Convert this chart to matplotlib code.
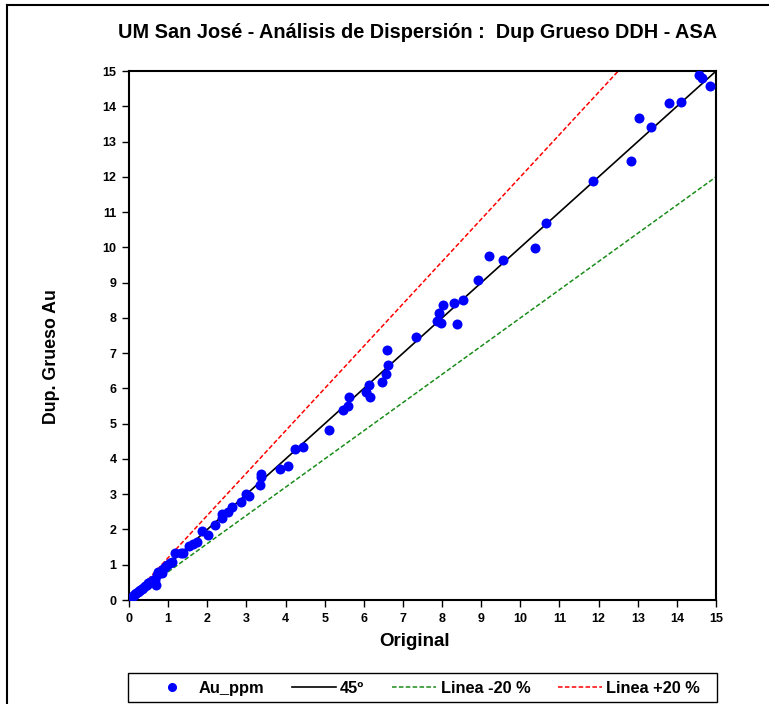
import matplotlib
matplotlib.use("Agg")
import matplotlib.pyplot as plt
from matplotlib.lines import Line2D
from matplotlib.patches import Rectangle
import numpy as np

plt.rcParams['font.family'] = ['Liberation Sans', 'DejaVu Sans']

# Original vs duplicate gold assays (ppm)
original = [
    14.57, 14.63, 14.85, 14.11, 13.79, 13.04, 13.34, 12.84, 11.86, 10.66,
    10.38, 9.19, 9.56, 8.91, 8.53, 8.31, 8.03, 7.91, 7.88, 7.96, 8.37,
    7.33, 6.58, 6.61, 6.57, 6.47, 6.12, 6.06, 6.16, 5.63, 5.59, 5.48,
    5.12, 4.44, 4.23, 4.05, 3.86, 3.37, 3.37, 3.34, 2.99, 3.07, 2.86,
    2.64, 2.54, 2.38, 2.38, 2.20, 1.86, 2.03, 1.73, 1.64, 1.53, 1.39,
    1.34, 1.18, 1.11, 1.05, 0.96, 0.88, 0.83, 0.71, 0.66, 0.69, 0.54,
    0.60, 0.48, 0.41, 0.35, 0.28, 0.22, 0.18, 0.12, 0.07, 0.04, 0.02,
    0.00, 0.10, 0.15, 0.25, 0.32, 0.45, 0.75, 0.92,
]
duplicate = [
    14.89, 14.81, 14.57, 14.12, 14.10, 13.67, 13.41, 12.44, 11.87, 10.70,
    9.97, 9.77, 9.64, 9.07, 8.52, 8.41, 8.36, 8.13, 7.92, 7.87, 7.83,
    7.45, 7.09, 6.67, 6.41, 6.19, 6.11, 5.89, 5.76, 5.77, 5.51, 5.40,
    4.83, 4.34, 4.28, 3.80, 3.72, 3.57, 3.50, 3.27, 3.00, 2.96, 2.79,
    2.65, 2.50, 2.44, 2.32, 2.14, 1.96, 1.85, 1.64, 1.59, 1.53, 1.34,
    1.32, 1.33, 1.09, 1.04, 0.99, 0.88, 0.76, 0.71, 0.57, 0.43, 0.52,
    0.58, 0.47, 0.40, 0.34, 0.28, 0.23, 0.19, 0.13, 0.09, 0.05, 0.03,
    0.00, 0.11, 0.16, 0.25, 0.31, 0.44, 0.79, 0.95,
]

axis_max = 15
ticks = list(range(0, 16))

W, H = 769, 704
fig = plt.figure(figsize=(W / 100, H / 100), dpi=100)
ax = fig.add_axes([0.1678, 0.1477, 0.7633, 0.7513])

ref = np.array([0, axis_max], dtype=float)
ax.plot(original, duplicate, 'o', color='#0000ff', markersize=7.2,
        markeredgewidth=0, zorder=3)
ax.plot(ref, ref, '-', color='black', lw=1.2, zorder=2)
ax.plot(ref, ref * 0.8, '--', color='#1a8c1a', lw=1.1, dashes=(3, 1.5), zorder=2)
ax.plot(ref, ref * 1.2, '--', color='#ff0000', lw=1.1, dashes=(3, 1.5), zorder=2)

ax.set_xlim(0, axis_max)
ax.set_ylim(0, axis_max)
ax.set_xticks(ticks)
ax.set_yticks(ticks)
ax.tick_params(direction='out', length=5, width=1, labelsize=9, pad=4)
for lbl in ax.get_xticklabels() + ax.get_yticklabels():
    lbl.set_fontweight('bold')
for sp in ax.spines.values():
    sp.set_linewidth(1.5)

fig.text(415 / W, 1 - 642 / H, 'Original', ha='center', va='center',
         fontsize=13.5, fontweight='bold')
fig.text(51 / W, 1 - 357 / H, 'Dup. Grueso Au', ha='center', va='center',
         rotation=90, fontsize=12.8, fontweight='bold')
fig.text(418 / W, 1 - 33 / H,
         'UM San José - Análisis de Dispersión :  Dup Grueso DDH - ASA',
         ha='center', va='center', fontsize=14.3, fontweight='bold')

# frame around the chart area
fig.add_artist(Line2D([7 / W, 7 / W], [0.0, 1 - 5 / H], color='black', lw=1.5,
                      transform=fig.transFigure))
fig.add_artist(Line2D([7 / W, 1.0], [1 - 5 / H, 1 - 5 / H], color='black', lw=1.5,
                      transform=fig.transFigure))

# legend box
fig.add_artist(Rectangle((128 / W, 1 - 701.5 / H), (717 - 128) / W, 28.5 / H,
                         transform=fig.transFigure, fill=False,
                         edgecolor='black', lw=1.0))

handles = [
    Line2D([], [], marker='o', ls='none', color='#0000ff', markersize=5.5),
    Line2D([], [], color='black', lw=1.2),
    Line2D([], [], color='#1a8c1a', lw=1.1, ls='--', dashes=(3, 1.5)),
    Line2D([], [], color='#ff0000', lw=1.1, ls='--', dashes=(3, 1.5)),
]
labels = ['Au_ppm', '45º', 'Linea -20 %', 'Linea +20 %']
leg = fig.legend(handles, labels, loc='center', ncol=4,
                 bbox_to_anchor=(425 / W, 1 - 688.5 / H),
                 prop={'weight': 'bold', 'size': 11.8}, frameon=False,
                 handlelength=2.7, handletextpad=0.25, columnspacing=1.7,
                 borderaxespad=0.0, borderpad=0.0)

fig.savefig('out.png', dpi=100)
